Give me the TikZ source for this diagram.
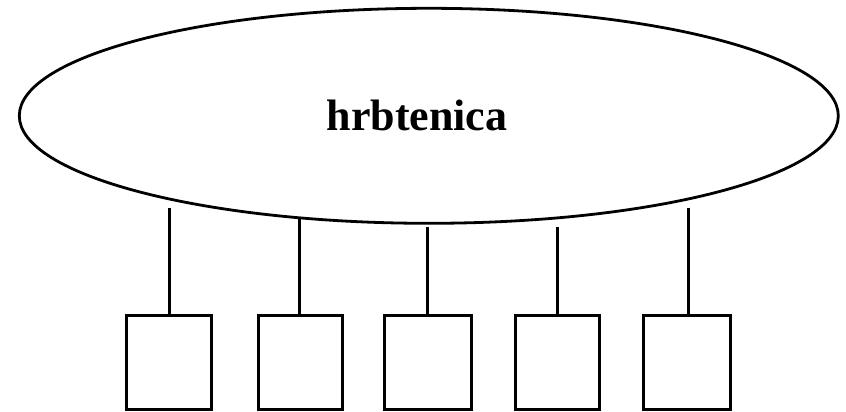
\documentclass[tikz,border=0pt]{standalone}
\usepackage{fontspec}
\setmainfont{Liberation Serif}
\usetikzlibrary{shapes.geometric}
\begin{document}
\begin{tikzpicture}[x=1pt,y=-1pt,
  netshape/.style={ellipse,draw,line width=2.8pt,inner sep=0pt,outer sep=0pt,minimum width=819pt,minimum height=215pt},
  hostbox/.style={rectangle,draw,line width=3pt,inner sep=0pt,outer sep=0pt,minimum height=94.7pt},
  label/.style={inner sep=0pt,anchor=base,font=\bfseries\fontsize{44}{44}\selectfont},
  link/.style={line width=3pt}]
\useasboundingbox[fill=white] (0,0) rectangle (846,412);
\node[netshape] (net) at (428.8,115.8) {};
\node[label] (name) at (417,130.7) {hrbtenica};
\node[hostbox,minimum width=84.6pt] (b1) at (169,362.6) {};
\node[hostbox,minimum width=84pt] (b2) at (300,362.6) {};
\node[hostbox,minimum width=87.3pt] (b3) at (428.3,362.6) {};
\node[hostbox,minimum width=84.3pt] (b4) at (557.8,362.6) {};
\node[hostbox,minimum width=87.3pt] (b5) at (686.7,362.6) {};
\coordinate (t1) at (169.3,207.7);
\coordinate (t2) at (299.3,218);
\coordinate (t3) at (427.7,227.3);
\coordinate (t4) at (557.2,227.3);
\coordinate (t5) at (688.5,207.7);
\foreach \i in {1,...,5}{
  \draw[link] (t\i) -- (t\i |- b\i.north);
}
\end{tikzpicture}
\end{document}
